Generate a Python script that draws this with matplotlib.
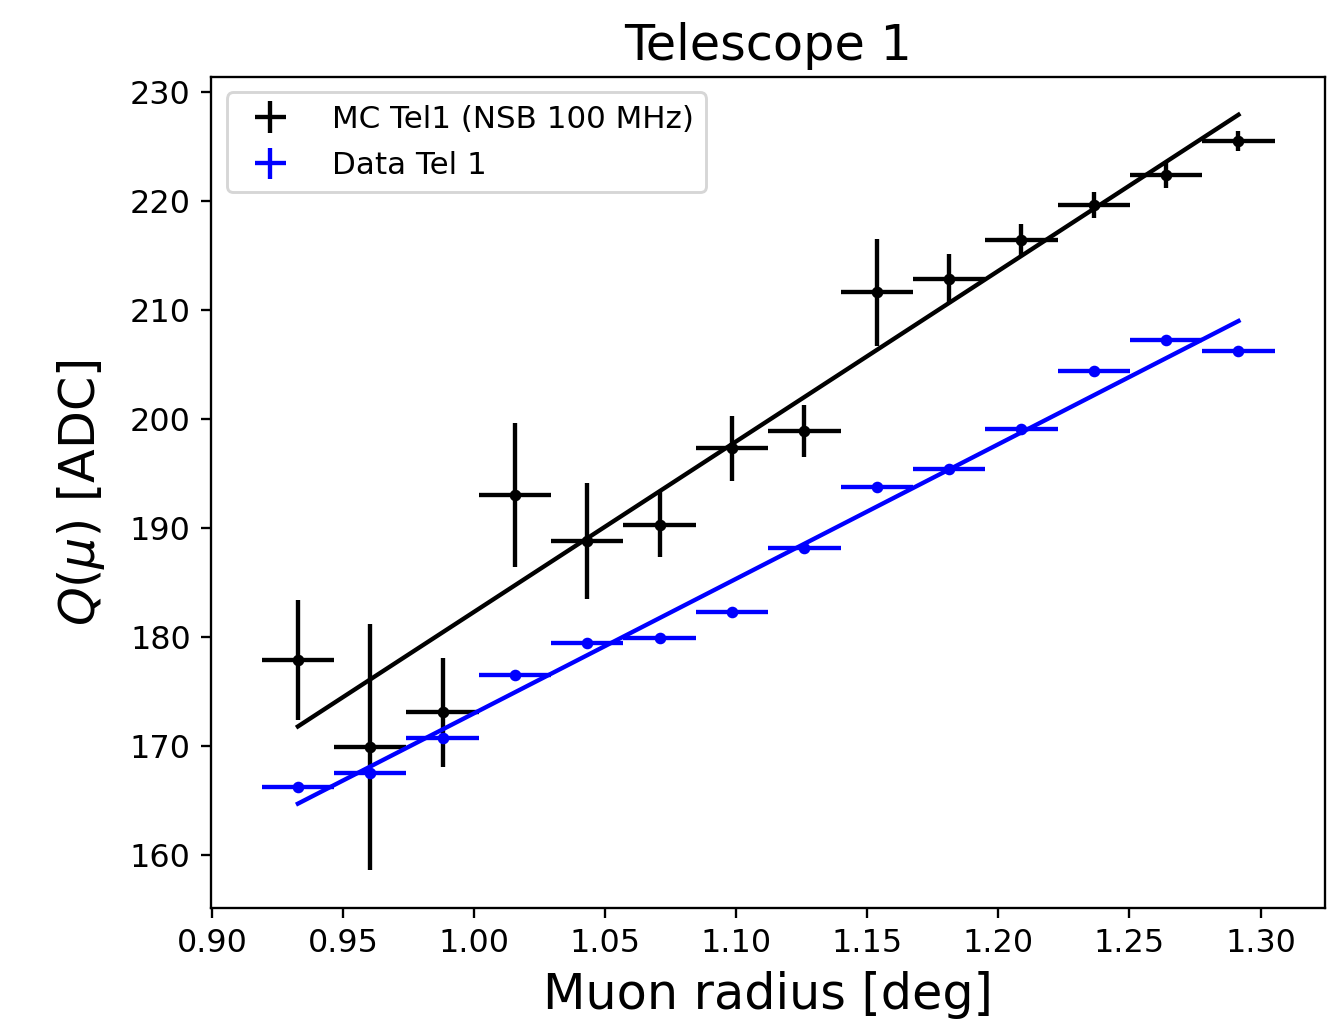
import matplotlib
matplotlib.use("Agg")
import matplotlib.pyplot as plt
import numpy

# Muon ring radius bins (centres) and half width
radius = [0.9328, 0.9604, 0.9880, 1.0156, 1.0432, 1.0708, 1.0984,
          1.1260, 1.1536, 1.1812, 1.2088, 1.2364, 1.2640, 1.2916]
radius_err = 0.0138

# Simulation, telescope 1
q_mc = [177.9, 169.9, 173.1, 193.0, 188.8, 190.3, 197.3,
        198.9, 211.6, 212.8, 216.4, 219.6, 222.4, 225.5]
q_mc_err = [5.5, 11.3, 5.0, 6.6, 5.3, 3.0, 3.0,
            2.4, 4.9, 2.3, 1.5, 1.2, 1.2, 0.9]

# Real data, telescope 1
q_data = [166.2, 167.5, 170.7, 176.5, 179.4, 179.9, 182.3,
          188.2, 193.8, 195.4, 199.1, 204.4, 207.2, 206.2]
q_data_err = [0.3, 0.3, 0.3, 0.3, 0.3, 0.3, 0.3,
              0.3, 0.3, 0.3, 0.3, 0.3, 0.3, 0.3]

# Linear fit parameters (slope, intercept)
fit_mc = (156.4, 25.9)
fit_data = (123.4, 49.6)

fig = plt.figure(figsize=(6.4, 4.915), dpi=208.75)
ax = fig.add_axes([0.158, 0.115, 0.834, 0.81])

ax.errorbar(radius, q_mc, xerr=radius_err, yerr=q_mc_err, fmt='.', color='black',
            label='MC Tel1 (NSB 100 MHz)')
ax.errorbar(radius, q_data, xerr=radius_err, yerr=q_data_err, fmt='.', color='blue',
            label='Data Tel 1')

r = numpy.array(radius)
ax.plot(r, fit_mc[0] * r + fit_mc[1], color='black')
ax.plot(r, fit_data[0] * r + fit_data[1], color='blue')

ax.set_xticks([0.90, 0.95, 1.00, 1.05, 1.10, 1.15, 1.20, 1.25, 1.30])
ax.tick_params(labelsize=11)
ax.set_title('Telescope 1', fontsize=17)
ax.set_xlabel('Muon radius [deg]', fontsize=17)
ax.set_ylabel(r'$Q(\mu)$ [ADC]', fontsize=17, labelpad=8)
ax.legend(loc='upper left', fontsize=10.7, labelspacing=0.55, markerscale=0,
          handletextpad=1.0)

plt.savefig('out.png')
